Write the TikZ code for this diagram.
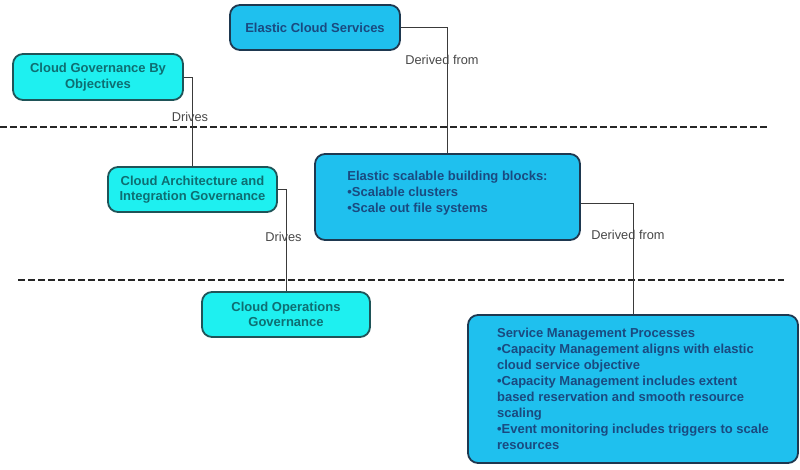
\documentclass[tikz,border=0pt]{standalone}
\usepackage{fontspec}
\setmainfont{Liberation Sans}
\definecolor{cyfill}{HTML}{1EF0F0}
\definecolor{cyline}{HTML}{1F5458}
\definecolor{cytext}{HTML}{0E6E72}
\definecolor{blfill}{HTML}{1FC0EE}
\definecolor{blline}{HTML}{1E3850}
\definecolor{bltext}{HTML}{1A4A80}
\definecolor{lbl}{HTML}{474747}
\definecolor{conn}{HTML}{3A3A3A}
\begin{document}
\begin{tikzpicture}[x=1pt,y=-1pt,
  box/.style={draw, line width=1.8pt, rounded corners=10pt, inner sep=0pt,
    align=center, font=\bfseries\fontsize{13}{15.5}\selectfont},
  cybox/.style={box, fill=cyfill, draw=cyline, text=cytext},
  blbox/.style={box, fill=blfill, draw=blline, text=bltext},
  lab/.style={font=\fontsize{12.8}{14}\selectfont, text=lbl, inner sep=1pt},
  link/.style={draw=conn, line width=0.9pt},
  sep/.style={line width=2pt, dash pattern=on 7pt off 3pt, draw=black!85}]
\useasboundingbox (0,0) rectangle (800,469);
% separators
\coordinate (s1a) at (0,126.5);
\coordinate (s1b) at (770,126.5);
\coordinate (s2a) at (18,280);
\coordinate (s2b) at (784,280);
\draw[sep] (s1a) -- (s1b);
\draw[sep] (s2a) -- (s2b);
% nodes
\node[blbox, minimum width=170pt, minimum height=45pt] (ecs) at (315,27.5) {Elastic Cloud Services};
\node[cybox, minimum width=170pt, minimum height=46pt] (cgo) at (98,77) {Cloud Governance By\\Objectives};
\node[cybox, minimum width=169pt, minimum height=45pt] (cai) at (192.5,189.5) {Cloud Architecture and\\Integration Governance};
\node[cybox, minimum width=168pt, minimum height=45pt] (cog) at (286,314.5) {Cloud Operations\\Governance};
\node[blbox, minimum width=265pt, minimum height=86pt, align=left,
  font=\bfseries\fontsize{13}{16}\selectfont] (esb) at (447.5,197)
  {Elastic scalable building blocks:\\\textbullet Scalable clusters\\\textbullet Scale out file systems\rule[-10pt]{0pt}{10pt}};
\node[blbox, minimum width=330pt, minimum height=148pt, align=left,
  font=\bfseries\fontsize{13}{16}\selectfont] (smp) at (633,389)
  {Service Management Processes\\
   \textbullet Capacity Management aligns with elastic\\
   cloud service objective\\
   \textbullet Capacity Management includes extent\\
   based reservation and smooth resource\\
   scaling\\
   \textbullet Event monitoring includes triggers to scale\\
   resources};
% connectors
\draw[link] (ecs.east) -| (esb.north);
\draw[link] (cgo.east) -| (cai.north);
\draw[link] (cai.east) -| (cog.north);
\draw[link] ([yshift=-6pt]esb.east) -| (smp.north);
% labels
\node[lab] (l1) at (442,60) {Derived from};
\node[lab] (l2) at (190,117) {Drives};
\node[lab] (l3) at (283.5,237) {Drives};
\node[lab] (l4) at (628,235) {Derived from};
\end{tikzpicture}
\end{document}
